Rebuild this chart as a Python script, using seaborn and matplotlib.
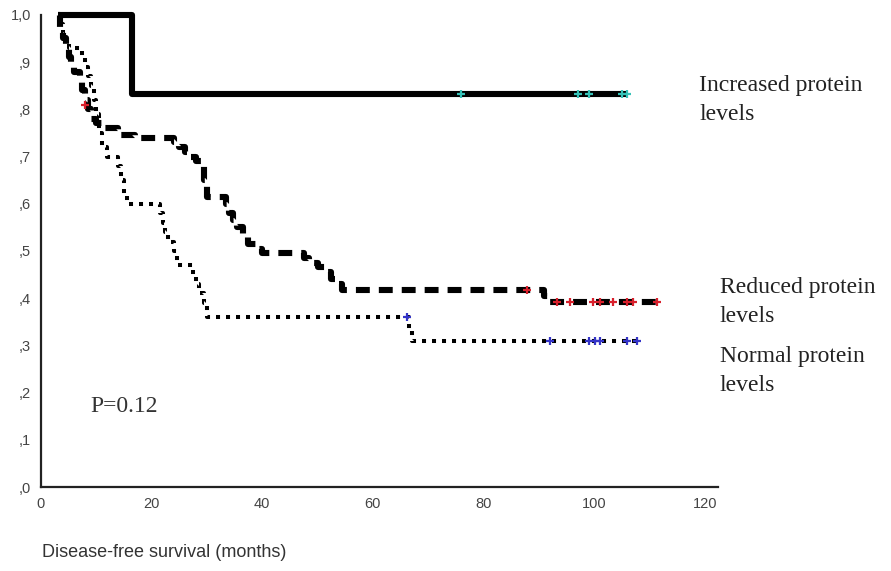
import numpy as np
import pandas as pd
import seaborn as sns
import matplotlib.pyplot as plt

# Kaplan-Meier step curves (months, cumulative survival)
inc_t = [3, 16.5, 106]
inc_s = [1.0, 0.833, 0.833]
inc_cens_t = [76, 97, 99, 105, 106]
inc_cens_s = [0.833, 0.833, 0.833, 0.833, 0.833]

red_t = [3, 3.5, 4, 4.5, 5, 5.5, 6, 7, 7.5, 8, 8.5, 9, 10, 11, 14, 17, 24, 25, 26, 27,
         28, 29, 29.5, 30, 33.5, 34, 34.7, 35.5, 36.5, 37.5, 39, 40, 47.5, 48.5, 50,
         51.5, 52.5, 53.5, 54.5, 91, 92, 112]
red_s = [1.0, 0.97, 0.95, 0.93, 0.91, 0.90, 0.88, 0.86, 0.84, 0.82, 0.80, 0.78, 0.77,
         0.76, 0.745, 0.74, 0.73, 0.72, 0.71, 0.70, 0.69, 0.68, 0.65, 0.615, 0.60, 0.58,
         0.565, 0.55, 0.53, 0.515, 0.505, 0.496, 0.485, 0.475, 0.465, 0.455, 0.44, 0.43,
         0.417, 0.405, 0.392, 0.392]
red_cens_t = [8, 87.9, 93.3, 95.7, 99.8, 101, 103.4, 106, 107, 111.4]
red_cens_s = [0.81, 0.417, 0.392, 0.392, 0.392, 0.392, 0.392, 0.392, 0.392, 0.392]

nor_t = [3, 3.5, 4, 4.5, 5, 7.5, 8, 8.5, 9, 9.5, 10, 10.5, 11, 12, 14, 14.5, 15, 15.5,
         21.5, 22, 22.5, 23, 24, 24.5, 27.5, 28, 28.5, 29.5, 30, 66.5, 67, 108]
nor_s = [1.0, 0.98, 0.96, 0.94, 0.93, 0.91, 0.89, 0.87, 0.85, 0.82, 0.79, 0.75, 0.72,
         0.70, 0.68, 0.65, 0.62, 0.60, 0.58, 0.56, 0.54, 0.52, 0.50, 0.47, 0.45, 0.43,
         0.41, 0.39, 0.36, 0.335, 0.31, 0.31]
nor_cens_t = [66.2, 92, 99, 100.2, 101.1, 106, 107.8]
nor_cens_s = [0.36, 0.31, 0.31, 0.31, 0.31, 0.31, 0.31]

x_ticks = [0, 20, 40, 60, 80, 100, 120]
y_ticks = [0, 0.1, 0.2, 0.3, 0.4, 0.5, 0.6, 0.7, 0.8, 0.9, 1.0]
y_tick_labels = [",0", ",1", ",2", ",3", ",4", ",5", ",6", ",7", ",8", ",9", "1,0"]

sns.set_style("white")
plt.rcParams["font.family"] = ["Liberation Sans", "DejaVu Sans"]
plt.rcParams["lines.scale_dashes"] = False

fig = plt.figure(figsize=(8.91, 5.71), dpi=100)
ax = fig.add_axes([0.046, 0.147, 0.760, 0.827])

curves = [
    (inc_t, inc_s, "-", 4.4),
    (red_t, red_s, (0, (10, 6.5)), 4.4),
    (nor_t, nor_s, (0, (2.9, 4.3)), 2.9),
]
for t, s, ls, lw in curves:
    df = pd.DataFrame({"month": t, "surv": s})
    sns.lineplot(data=df, x="month", y="surv", ax=ax, color="black", lw=lw,
                 linestyle=ls, drawstyle="steps-post", estimator=None, sort=False,
                 clip_on=False, solid_capstyle="butt", dash_capstyle="butt")

marks = [
    (inc_cens_t, inc_cens_s, "#35c2b8"),
    (red_cens_t, red_cens_s, "#d8202c"),
    (nor_cens_t, nor_cens_s, "#3434c8"),
]
for t, s, c in marks:
    sns.scatterplot(x=t, y=s, ax=ax, marker="+", s=40, color=c, linewidth=1.6,
                    clip_on=False, zorder=5)

ax.set_xlim(0, 122.4)
ax.set_ylim(0, 1.0)
ax.set_xticks(x_ticks)
ax.set_yticks(y_ticks)
ax.set_yticklabels(y_tick_labels)
ax.set_xlabel("")
ax.set_ylabel("")
sns.despine(ax=ax)
for side in ["left", "bottom"]:
    ax.spines[side].set_linewidth(1.6)
    ax.spines[side].set_color("#222222")
ax.tick_params(axis="both", length=3, width=1.6, color="#222222",
               labelsize=10.5, labelcolor="#444444", pad=4)

fig.text(0.047, 0.032, "Disease-free survival (months)", fontsize=13,
         color="#333333", va="center", ha="left")

serif = ["Liberation Serif", "DejaVu Serif"]
ax.text(8.9, 0.17, "P=0.12", family=serif, fontsize=17, color="#333333",
        va="center", ha="left")
fig.text(0.785, 0.825, "Increased protein\nlevels", family=serif, fontsize=17,
         color="#222222", va="center", ha="left", linespacing=1.5)
fig.text(0.808, 0.471, "Reduced protein\nlevels", family=serif, fontsize=17,
         color="#222222", va="center", ha="left", linespacing=1.5)
fig.text(0.808, 0.350, "Normal protein\nlevels", family=serif, fontsize=17,
         color="#222222", va="center", ha="left", linespacing=1.5)

fig.savefig("out.png", dpi=100)
